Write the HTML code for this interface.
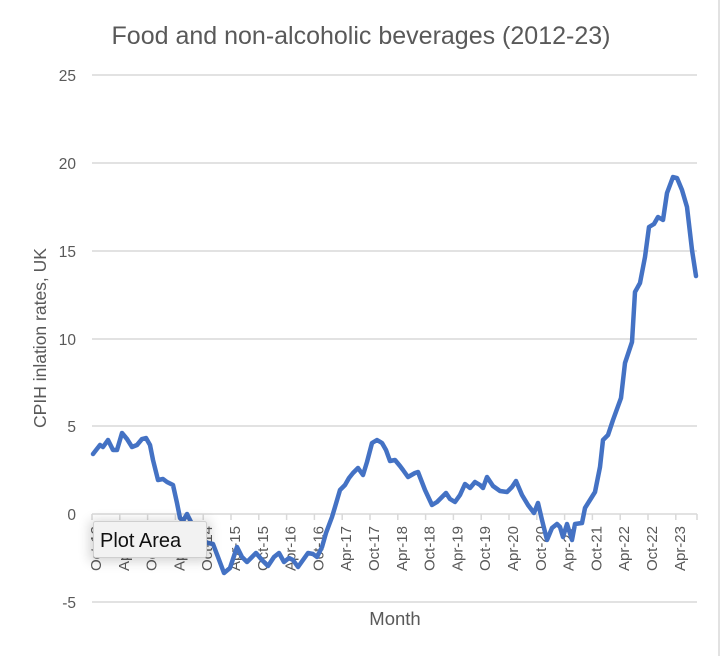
<!DOCTYPE html>
<html><head><meta charset="utf-8"><style>
body{margin:0;background:#fff;}
svg{display:block;font-family:"Liberation Sans",sans-serif;}
</style></head><body>
<svg width="722" height="656" viewBox="0 0 722 656" xmlns="http://www.w3.org/2000/svg">
<rect width="722" height="656" fill="#fff"/>
<line x1="719" y1="0" x2="719" y2="656" stroke="#d9d9d9" stroke-width="1.5"/>
<text x="361" y="44" font-size="25" fill="#595959" text-anchor="middle">Food and non-alcoholic beverages  (2012-23)</text>
<g stroke="#d9d9d9" stroke-width="1.5">
<line x1="92" y1="75" x2="697" y2="75"/>
<line x1="92" y1="163" x2="697" y2="163"/>
<line x1="92" y1="251" x2="697" y2="251"/>
<line x1="92" y1="339" x2="697" y2="339"/>
<line x1="92" y1="426" x2="697" y2="426"/>
<line x1="92" y1="514" x2="697" y2="514"/>
<line x1="92" y1="602" x2="697" y2="602"/>
</g>
<g font-size="15.5" fill="#595959" text-anchor="end">
<text x="76" y="81">25</text><text x="76" y="169">20</text><text x="76" y="257">15</text>
<text x="76" y="345">10</text><text x="76" y="432">5</text><text x="76" y="520">0</text><text x="76" y="608">-5</text>
</g>
<text transform="translate(46,338) rotate(-90)" font-size="17.5" fill="#595959" text-anchor="middle">CPIH inlation rates, UK</text>
<text x="395" y="625" font-size="18.5" fill="#595959" text-anchor="middle">Month</text>
<g id="ticks" stroke="#d9d9d9" stroke-width="1.5"></g>
<g id="xl" font-size="15" fill="#595959" text-anchor="end"></g>
<polyline fill="none" stroke="#4472c4" stroke-width="4.5" stroke-linejoin="round" stroke-linecap="round" points="93,454 100,445 103,447 108,440 113,450 117,450 122,433 127,439 132,447 137,445 142,439 146,438 150,445 153,460 158,480 163,479 167,482 173,485 177,503 180,518 183,521 187,514 191,522 195,528 200,535 204,541 208,543 213,544 218,557 224,573 230,568 237,547 242,557 247,562 252,557 256,553 262,560 268,566 274,557 279,553 284,562 289,558 293,560 298,567 303,560 308,553 313,554 317,557 322,547 326,533 332,517 335,507 340,490 345,485 349,478 353,473 358,468 363,475 367,462 372,443 377,440 382,443 386,450 390,461 395,460 400,466 403,470 408,477 415,473 418,472 425,490 432,505 437,502 446,493 450,499 455,502 460,495 465,484 470,488 475,482 480,485 483,488 487,477 493,486 500,491 507,492 512,487 516,481 522,495 528,505 534,513 538,503 542,520 547,540 552,528 557,524 560,527 563,537 567,524 572,540 575,524 582,523 585,508 590,500 595,492 600,467 603,440 608,435 613,420 621,398 625,363 632,342 635,292 640,283 645,257 649,227 654,224 658,217 663,220 667,193 673,177 677,178 682,190 687,207 692,250 696,276"/>
<defs><filter id="sh" x="-30%" y="-50%" width="160%" height="200%"><feGaussianBlur stdDeviation="6"/></filter></defs>
<rect x="90" y="521" width="120" height="40" fill="#000" opacity="0.18" filter="url(#sh)"/>
<rect x="93.5" y="521.5" width="113" height="36" rx="2" fill="#f2f2f2" stroke="#cfcfcf"/>
<text x="100" y="547" font-size="20" fill="#111">Plot Area</text>
<script>
var t=document.getElementById('ticks'),xl=document.getElementById('xl'),ns='http://www.w3.org/2000/svg';
for(var k=0;k<22;k++){var x=92+27.8*k;
var l=document.createElementNS(ns,'line');l.setAttribute('x1',x);l.setAttribute('x2',x);l.setAttribute('y1',514);l.setAttribute('y2',520);t.appendChild(l);
var yr=12+Math.floor((k+1)/2);var lab=(k%2==0?'Oct-':'Apr-')+yr;
var tx=document.createElementNS(ns,'text');tx.setAttribute('transform','translate('+(x+9)+',526) rotate(-90)');tx.textContent=lab;xl.appendChild(tx);}
var l2=document.createElementNS(ns,'line');l2.setAttribute('x1',697);l2.setAttribute('x2',697);l2.setAttribute('y1',514);l2.setAttribute('y2',520);t.appendChild(l2);
</script>
</svg>
</body></html>
